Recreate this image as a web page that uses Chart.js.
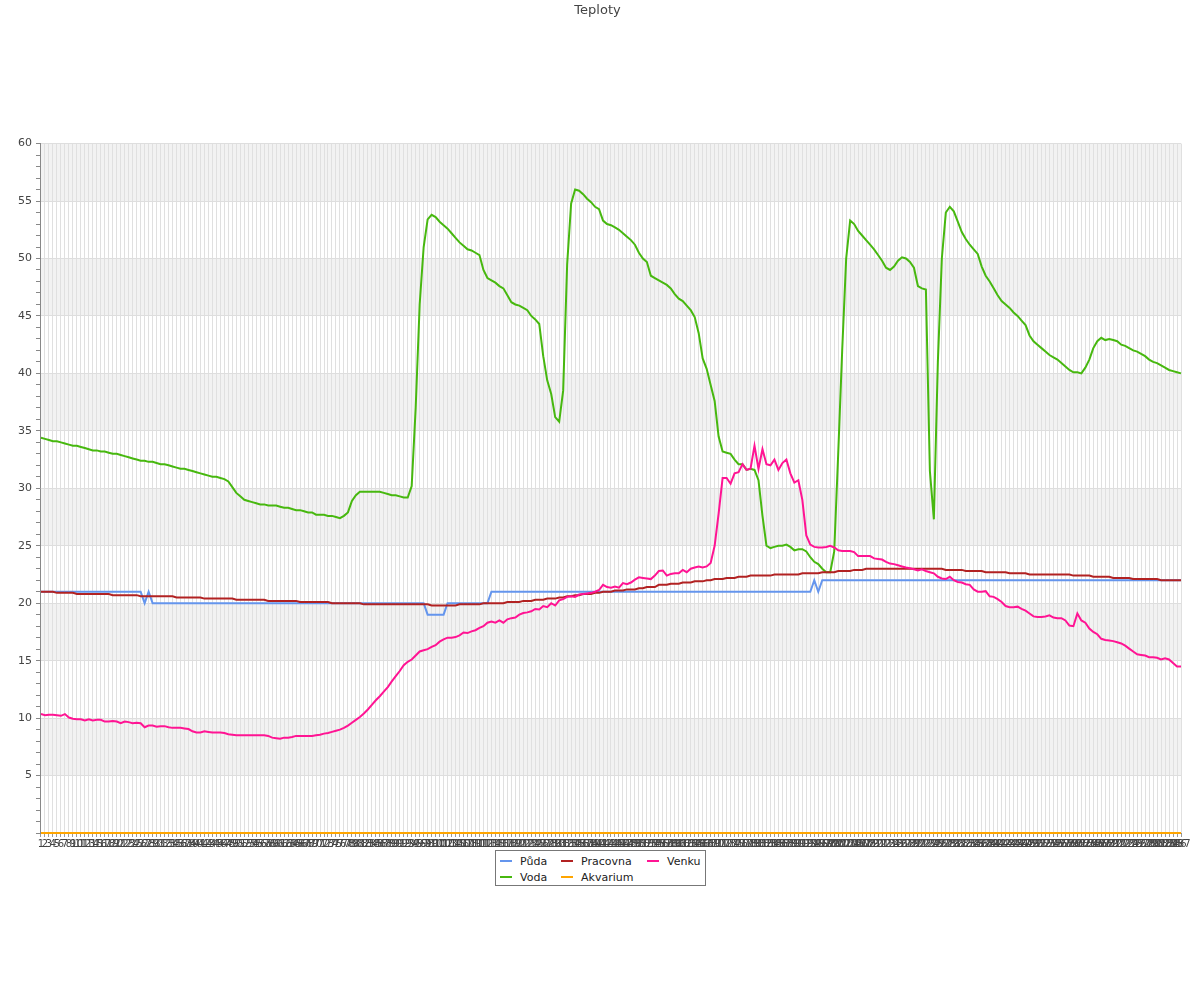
<!DOCTYPE html>
<html>
<head>
<meta charset="utf-8">
<title>Teploty</title>
<script src="https://cdn.jsdelivr.net/npm/chart.js@4.4.1/dist/chart.umd.min.js"></script>
<style>
    body { margin: 0; background: #fff; font-family: "DejaVu Sans", sans-serif; }
    #wrap { position: relative; width: 1200px; height: 1000px; }
    #legend {
        position: absolute; left: 495px; top: 850px;
        width: 211px; height: 36px; box-sizing: border-box;
        border: 1px solid #777; background: #fff;
        display: grid; grid-template-columns: 61px 86px 55px; grid-auto-rows: 16px;
        padding: 2px 0 0 4px;
        font-size: 11px; color: #222;
    }
    .item { display: flex; align-items: center; white-space: nowrap; }
    .swatch { display: inline-block; width: 12px; height: 2px; margin-right: 8px; }
</style>
</head>
<body>
<div id="wrap">
    <canvas id="chart" width="1200" height="1000"></canvas>
    <div id="legend"></div>
</div>
<script>
const FONT = '"DejaVu Sans", sans-serif';

// x categories: measurement numbers 1..287
const labels = [];
for (let n = 1; n <= 287; n++) labels.push(String(n));

const seriesNames = ['Půda', 'Pracovna', 'Venku', 'Voda', 'Akvarium'];
const seriesColors = ['#6495ed', '#b22222', '#ff1493', '#47b80f', '#ffa500'];

const puda = [
    21,21,21,21,21,21,21,21,21,21,
    21,21,21,21,21,21,21,21,21,21,
    21,21,21,21,21,21,20,21,20,20,
    20,20,20,20,20,20,20,20,20,20,
    20,20,20,20,20,20,20,20,20,20,
    20,20,20,20,20,20,20,20,20,20,
    20,20,20,20,20,20,20,20,20,20,
    20,20,20,20,20,20,20,20,20,20,
    20,20,20,20,20,20,20,20,20,20,
    20,20,20,20,20,20,20,19,19,19,
    19,19,20,20,20,20,20,20,20,20,
    20,20,20,21,21,21,21,21,21,21,
    21,21,21,21,21,21,21,21,21,21,
    21,21,21,21,21,21,21,21,21,21,
    21,21,21,21,21,21,21,21,21,21,
    21,21,21,21,21,21,21,21,21,21,
    21,21,21,21,21,21,21,21,21,21,
    21,21,21,21,21,21,21,21,21,21,
    21,21,21,21,21,21,21,21,21,21,
    21,21,21,21,22,21,22,22,22,22,
    22,22,22,22,22,22,22,22,22,22,
    22,22,22,22,22,22,22,22,22,22,
    22,22,22,22,22,22,22,22,22,22,
    22,22,22,22,22,22,22,22,22,22,
    22,22,22,22,22,22,22,22,22,22,
    22,22,22,22,22,22,22,22,22,22,
    22,22,22,22,22,22,22,22,22,22,
    22,22,22,22,22,22,22,22,22,22,
    22,22,22,22,22,22,22
];

const pracovna = [
    21.0,21.0,21.0,21.0,20.9,20.9,20.9,20.9,20.9,20.8,
    20.8,20.8,20.8,20.8,20.8,20.8,20.8,20.8,20.7,20.7,
    20.7,20.7,20.7,20.7,20.7,20.6,20.6,20.6,20.6,20.6,
    20.6,20.6,20.6,20.6,20.5,20.5,20.5,20.5,20.5,20.5,
    20.5,20.4,20.4,20.4,20.4,20.4,20.4,20.4,20.4,20.3,
    20.3,20.3,20.3,20.3,20.3,20.3,20.3,20.2,20.2,20.2,
    20.2,20.2,20.2,20.2,20.2,20.1,20.1,20.1,20.1,20.1,
    20.1,20.1,20.1,20.0,20.0,20.0,20.0,20.0,20.0,20.0,
    20.0,19.9,19.9,19.9,19.9,19.9,19.9,19.9,19.9,19.9,
    19.9,19.9,19.9,19.9,19.9,19.9,19.9,19.9,19.8,19.8,
    19.8,19.8,19.8,19.8,19.8,19.9,19.9,19.9,19.9,19.9,
    19.9,20.0,20.0,20.0,20.0,20.0,20.0,20.1,20.1,20.1,
    20.1,20.2,20.2,20.2,20.3,20.3,20.3,20.4,20.4,20.4,
    20.5,20.5,20.6,20.6,20.7,20.7,20.8,20.8,20.8,20.9,
    20.9,21.0,21.0,21.0,21.1,21.1,21.1,21.2,21.2,21.2,
    21.3,21.3,21.4,21.4,21.4,21.6,21.6,21.6,21.7,21.7,
    21.7,21.8,21.8,21.8,21.9,21.9,21.9,22.0,22.0,22.1,
    22.1,22.1,22.2,22.2,22.2,22.3,22.3,22.3,22.4,22.4,
    22.4,22.4,22.4,22.4,22.5,22.5,22.5,22.5,22.5,22.5,
    22.5,22.6,22.6,22.6,22.6,22.6,22.7,22.7,22.7,22.7,
    22.8,22.8,22.8,22.8,22.9,22.9,22.9,23.0,23.0,23.0,
    23.0,23.0,23.0,23.0,23.0,23.0,23.0,23.0,23.0,23.0,
    23.0,23.0,23.0,23.0,23.0,23.0,23.0,22.9,22.9,22.9,
    22.9,22.9,22.8,22.8,22.8,22.8,22.8,22.7,22.7,22.7,
    22.7,22.7,22.7,22.6,22.6,22.6,22.6,22.6,22.5,22.5,
    22.5,22.5,22.5,22.5,22.5,22.5,22.5,22.5,22.5,22.4,
    22.4,22.4,22.4,22.4,22.3,22.3,22.3,22.3,22.3,22.2,
    22.2,22.2,22.2,22.2,22.1,22.1,22.1,22.1,22.1,22.1,
    22.1,22.0,22.0,22.0,22.0,22.0,22.0
];

const venku = [
    10.35,10.25,10.3,10.3,10.25,10.2,10.35,10.05,9.95,9.9,
    9.9,9.8,9.9,9.8,9.85,9.85,9.7,9.7,9.75,9.7,
    9.55,9.7,9.65,9.55,9.6,9.55,9.2,9.35,9.35,9.25,
    9.3,9.3,9.2,9.15,9.15,9.15,9.1,9.05,8.85,8.75,
    8.75,8.85,8.8,8.75,8.75,8.75,8.7,8.6,8.55,8.5,
    8.5,8.5,8.5,8.5,8.5,8.5,8.5,8.45,8.3,8.25,
    8.2,8.3,8.3,8.35,8.45,8.45,8.45,8.45,8.45,8.5,
    8.55,8.65,8.7,8.8,8.9,9.0,9.15,9.35,9.6,9.85,
    10.1,10.4,10.75,11.15,11.55,11.9,12.3,12.7,13.2,13.65,
    14.1,14.6,14.9,15.1,15.45,15.8,15.9,16.0,16.2,16.35,
    16.65,16.85,17.0,17.0,17.05,17.2,17.45,17.4,17.55,17.65,
    17.85,18.0,18.3,18.4,18.3,18.5,18.3,18.6,18.7,18.75,
    19.0,19.15,19.2,19.3,19.5,19.45,19.75,19.65,20.0,19.8,
    20.25,20.35,20.55,20.6,20.55,20.75,20.8,20.85,20.9,21.0,
    21.15,21.6,21.4,21.35,21.45,21.35,21.75,21.65,21.8,22.05,
    22.25,22.2,22.15,22.1,22.4,22.8,22.85,22.4,22.55,22.6,
    22.6,22.9,22.7,23.0,23.1,23.2,23.1,23.2,23.5,25.0,
    27.8,30.9,30.9,30.4,31.3,31.4,32.1,31.6,31.7,33.7,
    31.7,33.4,32.1,32.0,32.5,31.6,32.2,32.5,31.3,30.5,
    30.7,29.0,25.9,25.1,24.9,24.85,24.85,24.9,25.0,24.85,
    24.6,24.55,24.55,24.55,24.45,24.1,24.1,24.1,24.1,23.9,
    23.85,23.8,23.6,23.45,23.4,23.3,23.2,23.1,23.05,22.95,
    22.85,22.95,22.8,22.7,22.6,22.3,22.15,22.1,22.3,22.0,
    21.85,21.8,21.65,21.6,21.2,21.0,21.0,21.05,20.6,20.55,
    20.35,20.1,19.75,19.65,19.65,19.7,19.5,19.35,19.1,18.85,
    18.8,18.8,18.85,18.95,18.75,18.7,18.7,18.5,18.05,18.0,
    19.1,18.5,18.3,17.8,17.5,17.3,16.9,16.8,16.75,16.7,
    16.6,16.5,16.3,16.05,15.8,15.55,15.5,15.45,15.3,15.3,
    15.25,15.1,15.2,15.1,14.8,14.5,14.5
];

const voda = [
    34.4,34.3,34.2,34.1,34.1,34.0,33.9,33.8,33.7,33.7,
    33.6,33.5,33.4,33.3,33.3,33.2,33.2,33.1,33.0,33.0,
    32.9,32.8,32.7,32.6,32.5,32.4,32.4,32.3,32.3,32.2,
    32.1,32.1,32.0,31.9,31.8,31.7,31.7,31.6,31.5,31.4,
    31.3,31.2,31.1,31.0,31.0,30.9,30.8,30.6,30.1,29.6,
    29.3,29.0,28.9,28.8,28.7,28.6,28.6,28.5,28.5,28.5,
    28.4,28.3,28.3,28.2,28.1,28.1,28.0,27.9,27.9,27.7,
    27.7,27.7,27.6,27.6,27.5,27.4,27.6,27.9,28.9,29.4,
    29.7,29.7,29.7,29.7,29.7,29.7,29.6,29.5,29.4,29.4,
    29.3,29.2,29.2,30.2,37.0,46.0,51.0,53.4,53.8,53.6,
    53.2,52.9,52.6,52.2,51.8,51.4,51.1,50.8,50.7,50.5,
    50.3,49.0,48.3,48.1,47.9,47.6,47.4,46.8,46.2,46.0,
    45.9,45.7,45.5,45.0,44.7,44.3,41.5,39.4,38.2,36.2,
    35.8,38.5,49.5,54.8,56.0,55.9,55.6,55.2,54.9,54.5,
    54.3,53.3,53.0,52.9,52.7,52.5,52.2,51.9,51.6,51.2,
    50.5,50.0,49.7,48.5,48.3,48.1,47.9,47.7,47.4,46.9,
    46.5,46.3,45.9,45.5,44.9,43.5,41.3,40.4,39.0,37.6,
    34.5,33.2,33.1,33.0,32.5,32.1,32.1,31.6,31.7,31.6,
    30.7,27.6,25.0,24.8,24.9,25.0,25.0,25.1,24.9,24.6,
    24.7,24.7,24.5,24.0,23.6,23.4,23.0,22.7,22.7,24.5,
    33.0,42.0,50.0,53.3,53.0,52.4,52.0,51.6,51.2,50.8,
    50.3,49.8,49.2,49.0,49.3,49.8,50.1,50.0,49.7,49.2,
    47.6,47.4,47.3,31.5,27.3,41.0,50.0,54.0,54.5,54.1,
    53.2,52.3,51.7,51.2,50.8,50.4,49.3,48.5,48.0,47.4,
    46.8,46.3,46.0,45.7,45.3,45.0,44.6,44.2,43.3,42.8,
    42.5,42.2,41.9,41.6,41.4,41.2,40.9,40.6,40.3,40.1,
    40.1,40.0,40.5,41.2,42.2,42.8,43.1,42.9,43.0,42.9,
    42.8,42.5,42.4,42.2,42.0,41.9,41.7,41.5,41.2,41.0,
    40.9,40.7,40.5,40.3,40.2,40.1,40.0
];

const akvarium = [
    0,0,0,0,0,0,0,0,0,0, 0,0,0,0,0,0,0,0,0,0, 0,0,0,0,0,0,0,0,0,0,
    0,0,0,0,0,0,0,0,0,0, 0,0,0,0,0,0,0,0,0,0, 0,0,0,0,0,0,0,0,0,0,
    0,0,0,0,0,0,0,0,0,0, 0,0,0,0,0,0,0,0,0,0, 0,0,0,0,0,0,0,0,0,0,
    0,0,0,0,0,0,0,0,0,0, 0,0,0,0,0,0,0,0,0,0, 0,0,0,0,0,0,0,0,0,0,
    0,0,0,0,0,0,0,0,0,0, 0,0,0,0,0,0,0,0,0,0, 0,0,0,0,0,0,0,0,0,0,
    0,0,0,0,0,0,0,0,0,0, 0,0,0,0,0,0,0,0,0,0, 0,0,0,0,0,0,0,0,0,0,
    0,0,0,0,0,0,0,0,0,0, 0,0,0,0,0,0,0,0,0,0, 0,0,0,0,0,0,0,0,0,0,
    0,0,0,0,0,0,0,0,0,0, 0,0,0,0,0,0,0,0,0,0, 0,0,0,0,0,0,0,0,0,0,
    0,0,0,0,0,0,0,0,0,0, 0,0,0,0,0,0,0,0,0,0, 0,0,0,0,0,0,0,0,0,0,
    0,0,0,0,0,0,0,0,0,0, 0,0,0,0,0,0,0
];

const seriesValues = [puda, pracovna, venku, voda, akvarium];
// lower order = drawn on top
const drawOrder = [3, 2, 1, 4, 5];

// y axis: 0..60, labelled every 5
const yMin = 0;
const yMax = 60;
const yLabelStep = 5;

// light grey bands behind every other 5-degree strip
const bandPlugin = {
    id: 'bands',
    beforeDraw(chart) {
        const { ctx, chartArea, scales: { y } } = chart;
        ctx.save();
        ctx.fillStyle = '#f2f2f2';
        for (let v = yMin + yLabelStep; v < yMax; v += 2 * yLabelStep) {
            const top = y.getPixelForValue(v + yLabelStep);
            const bottom = y.getPixelForValue(v);
            ctx.fillRect(chartArea.left, top, chartArea.right - chartArea.left, bottom - top);
        }
        ctx.restore();
    }
};

const ctx = document.getElementById('chart').getContext('2d');
new Chart(ctx, {
    type: 'line',
    data: {
        labels: labels,
        datasets: seriesNames.map((name, i) => ({
            label: name,
            data: seriesValues[i],
            borderColor: seriesColors[i],
            backgroundColor: seriesColors[i],
            borderWidth: 2,
            pointRadius: 0,
            tension: 0,
            fill: false,
            clip: false,
            order: drawOrder[i]
        }))
    },
    options: {
        responsive: false,
        animation: false,
        layout: { padding: { left: 14, right: 19, top: 0, bottom: 149 } },
        plugins: {
            legend: { display: false },
            tooltip: { enabled: false },
            title: {
                display: true,
                text: 'Teploty',
                color: '#444',
                font: { family: FONT, size: 13, weight: 'normal' },
                padding: { top: 3, bottom: 125 }
            }
        },
        scales: {
            x: {
                grid: { color: '#e0e0e0', tickColor: '#999', tickLength: 4 },
                border: { color: '#888' },
                ticks: {
                    autoSkip: false, maxRotation: 0, minRotation: 0,
                    color: '#444', padding: 1,
                    font: { family: FONT, size: 10 }
                }
            },
            y: {
                min: yMin,
                max: yMax,
                grid: {
                    color: c => (c.tick && c.tick.value % yLabelStep === 0) ? '#dedede' : 'rgba(0,0,0,0)',
                    tickColor: '#888',
                    tickLength: 5
                },
                border: { color: '#888' },
                ticks: {
                    stepSize: 1,
                    autoSkip: false,
                    color: '#444',
                    padding: 4,
                    font: { family: FONT, size: 11 },
                    callback: v => (v % yLabelStep === 0 && v !== 0) ? v : ''
                }
            }
        }
    },
    plugins: [bandPlugin]
});

// Legend (3 columns, boxed, under the axis)
const legend = document.getElementById('legend');
seriesNames.forEach((name, i) => {
    const item = document.createElement('div');
    item.className = 'item';
    item.innerHTML = `<span class="swatch" style="background:${seriesColors[i]}"></span>${name}`;
    legend.appendChild(item);
});
</script>
</body>
</html>
